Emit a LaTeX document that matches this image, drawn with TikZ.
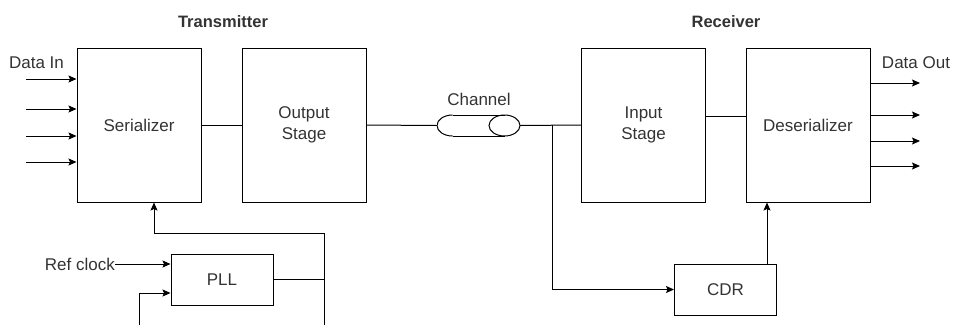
\documentclass[tikz,border=0pt]{standalone}
\usepackage{fontspec}
\setmainfont{Liberation Sans}
\usetikzlibrary{arrows.meta}

\tikzset{
	blk/.style={draw, line width=1pt, minimum width=124pt, minimum height=154pt, align=center, inner sep=0pt},
	smallblk/.style={draw, line width=1pt, minimum width=102pt, minimum height=51pt, inner sep=0pt},
	lbl/.style={inner sep=0pt},
	wire/.style={line width=1pt},
	sig/.style={line width=1pt, -{Stealth[length=8pt,width=7pt,inset=1.5pt]}},
}

\begin{document}
\begin{tikzpicture}[x=1pt, y=-1pt, font=\fontsize{17}{21.5}\selectfont, text=black!80]
		\useasboundingbox (0,0) rectangle (954,325);

		\node[blk] (ser) at (139, 125)		{Serializer};
		\node[blk] (outs) at (304, 125)		{Output\\Stage};
		\node[blk] (ins) at (643.5, 125)		{Input\\Stage};
		\node[blk] (des) at (808, 125)		{Deserializer};
		\node[smallblk] (pll) at (222, 279.5)		{PLL};
		\node[smallblk] (cdr) at (725.5, 289.5)		{CDR};
		\node[minimum width=83pt, minimum height=21pt, inner sep=0pt] (chan) at (478.5, 125.5) {};

		\node[lbl, font=\fontsize{16.5}{20}\selectfont\bfseries] (tx) at (223, 22)		{Transmitter};
		\node[lbl, font=\fontsize{16.5}{20}\selectfont\bfseries] (rx) at (726, 22)		{Receiver};
		\node[lbl] (chlbl) at (479, 99)		{Channel};
		\node[lbl] (din) at (36.5, 63)		{Data In};
		\node[lbl] (dout) at (916, 63)		{Data Out};
		\node[lbl, anchor=east] (ref) at (115, 264)		{Ref clock};

		% the cable: half end on the left, full end on the right
		\begin{scope}
			\clip (437, 110) rectangle (452.5, 141);
			\draw[wire] (452.5, 125.5) ellipse [x radius=15.5pt, y radius=10.5pt];
		\end{scope}
		\draw[wire] (452.5, 115) -- (504.5, 115);
		\draw[wire] (452.5, 136) -- (504.5, 136);
		\draw[wire] (504.5, 125.5) ellipse [x radius=15.5pt, y radius=10.5pt];

		\coordinate (tap) at (552, 125);
		\coordinate (fbtop) at (324, 233);
		\coordinate (fbbot) at (324, 325);
		\coordinate (lpbot) at (139, 325);

		% data path
		\draw[wire] (ser.east) -- (outs.west);
		\draw[wire] (outs.east) -- (chan.west);
		\draw[wire] (chan.east) -- (ins.west);
		\draw[wire] ([yshift=9pt]ins.east) -- ([yshift=9pt]des.west);
		\draw[sig] (tap) |- (cdr.west);
		\draw[sig] ([xshift=41.5pt]cdr.north) -- ([xshift=41.5pt]cdr.north |- des.south);

		% clocking
		\draw[sig] (ref.east) -- (ref.east -| pll.west);
		\draw[sig] (lpbot) |- ([yshift=-13.5pt]pll.west);
		\draw[wire] (pll.east) -- (pll.east -| fbtop);
		\draw[wire] (fbbot) -- (fbtop);
		\draw[sig] (fbtop) -| ([xshift=15pt]ser.south);

		\foreach \y [count=\i] in {79,109,136,162} {
			\coordinate (in\i) at (26, \y);
			\draw[sig] (in\i) -- (in\i -| ser.west);
		}
		\foreach \y [count=\i] in {83,115,141,166} {
			\coordinate (out\i) at (920, \y);
			\draw[sig] (out\i -| des.east) -- (out\i);
		}
	\end{tikzpicture}
\end{document}
